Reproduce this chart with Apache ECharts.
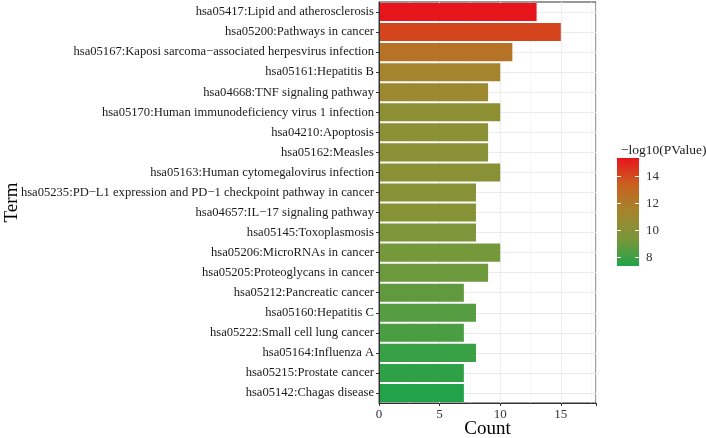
<!DOCTYPE html>
<html>
<head>
<meta charset="utf-8">
<script src="https://cdn.jsdelivr.net/npm/echarts@6/dist/echarts.min.js"></script>
<style>html,body{margin:0;padding:0;background:#fff;}#c{width:706px;height:438px;}</style>
</head>
<body>
<div id="c"></div>
<script>
const terms = [
  "hsa05417:Lipid and atherosclerosis",
  "hsa05200:Pathways in cancer",
  "hsa05167:Kaposi sarcoma\u2212associated herpesvirus infection",
  "hsa05161:Hepatitis B",
  "hsa04668:TNF signaling pathway",
  "hsa05170:Human immunodeficiency virus 1 infection",
  "hsa04210:Apoptosis",
  "hsa05162:Measles",
  "hsa05163:Human cytomegalovirus infection",
  "hsa05235:PD\u2212L1 expression and PD\u22121 checkpoint pathway in cancer",
  "hsa04657:IL\u221217 signaling pathway",
  "hsa05145:Toxoplasmosis",
  "hsa05206:MicroRNAs in cancer",
  "hsa05205:Proteoglycans in cancer",
  "hsa05212:Pancreatic cancer",
  "hsa05160:Hepatitis C",
  "hsa05222:Small cell lung cancer",
  "hsa05164:Influenza A",
  "hsa05215:Prostate cancer",
  "hsa05142:Chagas disease"
];
const counts = [13, 15, 11, 10, 9, 10, 9, 9, 10, 8, 8, 8, 10, 9, 7, 8, 7, 8, 7, 7];
const negLogP = [15.35, 14.1, 12.4, 11.4, 11.0, 10.3, 10.2, 10.15, 10.1, 10.0, 9.9, 9.5, 9.25, 9.05, 8.8, 8.55, 8.3, 7.9, 7.65, 7.38];
const xTicks = [0, 5, 10, 15];
const legendTicks = [8, 10, 12, 14];
const pMin = 7.38, pMax = 15.35;
const gradientColors = ["#22A349", "#7A973A", "#A3852C", "#C8621F", "#E8141C"];

const serif = "Liberation Serif";
const chart = echarts.init(document.getElementById('c'), null, {renderer: 'canvas'});

const legendBox = {left: 617, top: 158, width: 22, height: 108};

chart.setOption({
  animation: false,
  backgroundColor: '#ffffff',
  title: {
    text: '\u2212log10(PValue)',
    left: 616, top: 138,
    textStyle: {fontFamily: serif, fontSize: 13.5, fontWeight: 'normal', color: '#1a1a1a'}
  },
  grid: [
    {left: 379, right: 110, top: 2, bottom: 35, containLabel: false, outerBoundsMode: 'none',
     show: true, borderColor: '#333', borderWidth: 1, backgroundColor: 'transparent'},
    {left: legendBox.left, top: legendBox.top, width: legendBox.width, height: legendBox.height, outerBoundsMode: 'none'}
  ],
  graphic: [{
    type: 'rect', left: legendBox.left, top: legendBox.top, z: 0,
    shape: {width: legendBox.width, height: legendBox.height},
    style: {fill: new echarts.graphic.LinearGradient(0, 1, 0, 0,
      gradientColors.map((c, i) => ({offset: i / (gradientColors.length - 1), color: c})))}
  }],
  visualMap: {
    show: false, type: 'continuous', seriesIndex: 0, dimension: 2,
    min: pMin, max: pMax, inRange: {color: gradientColors}
  },
  xAxis: [
    {
      type: 'value', gridIndex: 0, position: 'bottom', min: 0, max: 17.9, interval: 5, z: 3,
      axisLine: {show: true, onZero: false, lineStyle: {color: '#333', width: 1}},
      axisTick: {show: true, length: 3, lineStyle: {color: '#333'}},
      axisLabel: {fontFamily: serif, fontSize: 13, color: '#333', margin: 5, customValues: xTicks},
      splitLine: {show: false},
      name: 'Count', nameLocation: 'middle', nameGap: 17, nameMoveOverlap: false,
      nameTextStyle: {fontFamily: serif, fontSize: 19, color: '#000'}
    },
    {
      type: 'value', gridIndex: 0, position: 'top', min: 0, max: 17.9, interval: 5,
      axisLine: {show: false},
      axisTick: {show: false}, axisLabel: {show: false},
      splitLine: {show: true, lineStyle: {color: '#EBEBEB', width: 1.1}}
    },
    {
      type: 'value', gridIndex: 0, position: 'top', min: 0, max: 17.9, interval: 2.5,
      axisLine: {show: false}, axisTick: {show: false}, axisLabel: {show: false},
      splitLine: {show: true, lineStyle: {color: '#F2F2F2', width: 0.6}}
    },
    {type: 'category', gridIndex: 1, data: [''], show: false}
  ],
  yAxis: [
    {
      type: 'category', gridIndex: 0, data: terms, inverse: true, z: 3,
      axisLine: {show: true, onZero: false, lineStyle: {color: '#333', width: 1}},
      axisTick: {show: true, length: 3, alignWithLabel: true, lineStyle: {color: '#333'}},
      axisLabel: {fontFamily: serif, fontSize: 12.6, color: '#1a1a1a', margin: 5},
      splitLine: {show: false},
      name: 'Term', nameLocation: 'middle', nameGap: 357, nameRotate: 90, nameMoveOverlap: false,
      nameTextStyle: {fontFamily: serif, fontSize: 19, color: '#000'}
    },
    {
      type: 'value', gridIndex: 1, min: pMin, max: pMax, position: 'right', z: 10,
      axisLine: {show: false},
      axisTick: {show: true, inside: true, length: 4, customValues: legendTicks, lineStyle: {color: '#ffffff', width: 1}},
      axisLabel: {show: true, customValues: legendTicks, fontFamily: serif, fontSize: 13, color: '#333', margin: 7},
      splitLine: {show: false}
    },
    {
      type: 'value', gridIndex: 1, min: pMin, max: pMax, position: 'left', z: 10,
      axisLine: {show: false},
      axisTick: {show: true, inside: true, length: 4, customValues: legendTicks, lineStyle: {color: '#ffffff', width: 1}},
      axisLabel: {show: false}, splitLine: {show: false}
    }
  ],
  series: [
    {
      type: 'bar', xAxisIndex: 0, yAxisIndex: 0, z: 2,
      barCategoryGap: '10%',
      encode: {x: 0, y: 1},
      data: counts.map((c, i) => [c, terms[i], negLogP[i]])
    },
    {
      type: 'line', xAxisIndex: 0, yAxisIndex: 0, z: 1,
      data: [], symbol: 'none',
      markLine: {
        silent: true, z: 1, symbol: ['none', 'none'], label: {show: false},
        lineStyle: {color: '#EBEBEB', width: 1.1, type: 'solid'},
        data: terms.map(t => ({yAxis: t}))
      }
    }
  ]
});
</script>
</body>
</html>
